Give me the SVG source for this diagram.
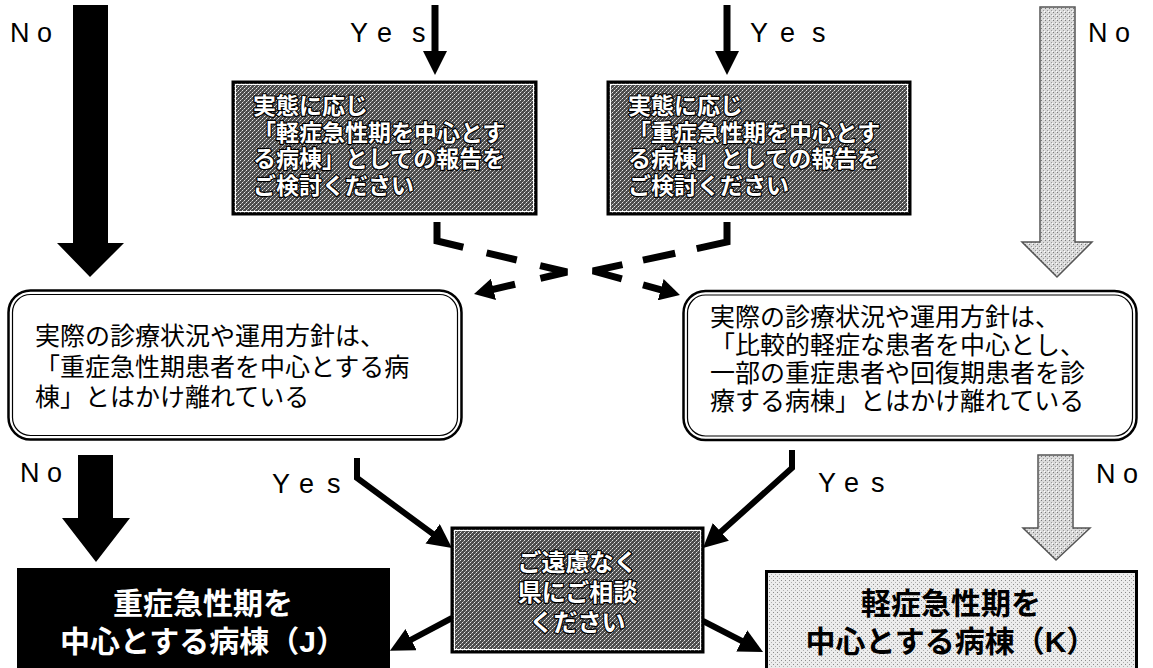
<svg xmlns="http://www.w3.org/2000/svg" width="1153" height="668" viewBox="0 0 1153 668">
<defs>
<pattern id="darkDots" width="4" height="4" patternUnits="userSpaceOnUse">
<rect width="4" height="4" fill="#4c4c4c"/>
<rect x="0" y="0" width="1" height="1" fill="#e8e8e8"/>
<rect x="2" y="2" width="1" height="1" fill="#e8e8e8"/>
<rect x="1" y="3" width="1" height="1" fill="#9a9a9a"/>
<rect x="3" y="1" width="1" height="1" fill="#9a9a9a"/>
</pattern>
<pattern id="lightDots" width="4" height="4" patternUnits="userSpaceOnUse">
<rect width="4" height="4" fill="#ececec"/>
<rect x="1" y="0" width="1" height="1" fill="#8a8a8a"/>
<rect x="3" y="2" width="1" height="1" fill="#b0b0b0"/>
</pattern>
<pattern id="lightDots2" width="4" height="4" patternUnits="userSpaceOnUse">
<rect width="4" height="4" fill="#dadada"/>
<rect x="1" y="0" width="1" height="1" fill="#7a7a7a"/>
<rect x="3" y="2" width="1" height="1" fill="#9a9a9a"/>
<rect x="0" y="3" width="1" height="1" fill="#ffffff"/>
</pattern>
<marker id="headS" markerUnits="userSpaceOnUse" markerWidth="22" markerHeight="22" refX="8" refY="11" orient="auto">
<path d="M0,0 L20,11 L0,22 z" fill="#000"/>
</marker>
<marker id="headL" markerUnits="userSpaceOnUse" markerWidth="26" markerHeight="26" refX="10" refY="12" orient="auto">
<path d="M0,0 L24,12 L0,24 z" fill="#000"/>
</marker>
</defs>
<style>
.lbl{font-family:"Liberation Sans",Arial,sans-serif;font-size:27px;fill:#000}
.jp{font-family:"Liberation Sans","Noto Sans CJK JP",sans-serif;font-size:25px;fill:#000}
.inv{font-family:"Liberation Sans","Noto Sans CJK JP",sans-serif;font-size:23px;font-weight:bold;fill:#fff;stroke:#000;stroke-width:2.4px;paint-order:stroke;stroke-linejoin:round}
.big{font-family:"Liberation Sans","Noto Sans CJK JP",sans-serif;font-size:30px;font-weight:bold;text-anchor:middle}
.conn{fill:none;stroke:#000;stroke-linejoin:miter}
.block{fill:#000}
.lblock{fill:url(#lightDots2);stroke:#555;stroke-width:1.5}
.outer{fill:#fff;stroke:#000;stroke-width:2.5}
.inner{fill:none;stroke:#000;stroke-width:1.2}
.dark{fill:url(#darkDots);stroke:#000;stroke-width:3}
.darkIn{fill:none;stroke:#fff;stroke-width:1}
</style>

<g id="labels">
<text class="lbl" x="10" y="42">N o</text>
<text class="lbl" x="350 368 377 392 412" y="42">Y e s</text>
<text class="lbl" x="750 768 780 795 812" y="42">Y e s</text>
<text class="lbl" x="1088" y="42">N o</text>
<text class="lbl" x="20" y="482">N o</text>
<text class="lbl" x="272 290 299 314 327" y="493">Y e s</text>
<text class="lbl" x="818 836 844 859 871" y="492">Y e s</text>
<text class="lbl" x="1096" y="483">N o</text>
</g>

<g id="connectors">
<polygon class="block" points="73,5 108,5 108,243 124,243 90,277 57,243 73,243"/>
<polygon class="lblock" points="1040,7 1075,7 1075,242 1092,242 1057,277 1022,242 1040,242"/>
<polygon class="block" points="78,455 113,455 113,518 130,518 96,562 62,518 78,518"/>
<polygon class="lblock" points="1038,455 1073,455 1073,528 1090,528 1056,560 1023,528 1038,528"/>
<path class="conn" d="M435,5 L435,61" stroke-width="7" marker-end="url(#headL)"/>
<path class="conn" d="M727,5 L727,61" stroke-width="7" marker-end="url(#headL)"/>
<path class="conn" d="M437,222 L437,241 L567,272 L485.7,291.2" stroke-width="7" stroke-dasharray="46 24 31 24 55 26 80" marker-end="url(#headS)"/>
<path class="conn" d="M727,222 L727,242 L593,271 L668.4,291.8" stroke-width="7" stroke-dasharray="51 22 33 21 60 22 80" marker-end="url(#headS)"/>
<path class="conn" d="M357,458 L357,478 L440.7,539.7" stroke-width="6" marker-end="url(#headL)"/>
<path class="conn" d="M792,450 L792,468 L713.4,538.6" stroke-width="6" marker-end="url(#headL)"/>
<path class="conn" d="M452,618 L402.3,644.3" stroke-width="6" marker-end="url(#headL)"/>
<path class="conn" d="M703,621 L750.6,645.5" stroke-width="6" marker-end="url(#headL)"/>
</g>

<g id="box-light-report">
<rect class="dark" x="233" y="82" width="303" height="132"/>
<rect class="darkIn" x="235.5" y="84.5" width="298" height="127"/>
<text class="inv" x="253" y="114">実態に応じ</text>
<text class="inv" x="253" y="141">「軽症急性期を中心とす</text>
<text class="inv" x="253" y="167">る病棟」としての報告を</text>
<text class="inv" x="253" y="194">ご検討ください</text>
</g>

<g id="box-heavy-report">
<rect class="dark" x="608" y="82" width="302" height="132"/>
<rect class="darkIn" x="610.5" y="84.5" width="297" height="127"/>
<text class="inv" x="628" y="114">実態に応じ</text>
<text class="inv" x="628" y="141">「重症急性期を中心とす</text>
<text class="inv" x="628" y="167">る病棟」としての報告を</text>
<text class="inv" x="628" y="194">ご検討ください</text>
</g>

<g id="box-left-question">
<rect class="outer" x="8.5" y="290.5" width="453" height="149" rx="22"/>
<rect class="inner" x="12.5" y="294.5" width="445" height="141" rx="18"/>
<text class="jp" x="35" y="345">実際の診療状況や運用方針は、</text>
<text class="jp" x="35" y="375.5">「重症急性期患者を中心とする病</text>
<text class="jp" x="35" y="406">棟」とはかけ離れている</text>
</g>

<g id="box-right-question">
<rect class="outer" x="683.5" y="291" width="453" height="149" rx="22"/>
<rect class="inner" x="687.5" y="295" width="445" height="141" rx="18"/>
<text class="jp" x="710" y="326">実際の診療状況や運用方針は、</text>
<text class="jp" x="710" y="354">「比較的軽症な患者を中心とし、</text>
<text class="jp" x="710" y="382">一部の重症患者や回復期患者を診</text>
<text class="jp" x="710" y="410">療する病棟」とはかけ離れている</text>
</g>

<g id="box-consult">
<rect class="dark" x="452" y="528" width="251" height="124"/>
<rect class="darkIn" x="454.5" y="530.5" width="246" height="119"/>
<text class="inv" x="577.5" y="571" text-anchor="middle" style="font-size:24px">ご遠慮なく</text>
<text class="inv" x="577.5" y="601" text-anchor="middle" style="font-size:24px">県にご相談</text>
<text class="inv" x="577.5" y="631" text-anchor="middle" style="font-size:24px">ください</text>
</g>

<g id="box-J">
<rect x="17" y="568" width="373" height="102" fill="#000"/>
<text class="big" x="203" y="614" fill="#fff">重症急性期を</text>
<text class="big" x="203" y="652" fill="#fff">中心とする病棟（J）</text>
</g>

<g id="box-K">
<rect x="766.5" y="571.5" width="370" height="100" fill="url(#lightDots)" stroke="#000" stroke-width="3"/>
<text class="big" x="951" y="614" fill="#000">軽症急性期を</text>
<text class="big" x="951" y="652" fill="#000">中心とする病棟（K）</text>
</g>
</svg>
